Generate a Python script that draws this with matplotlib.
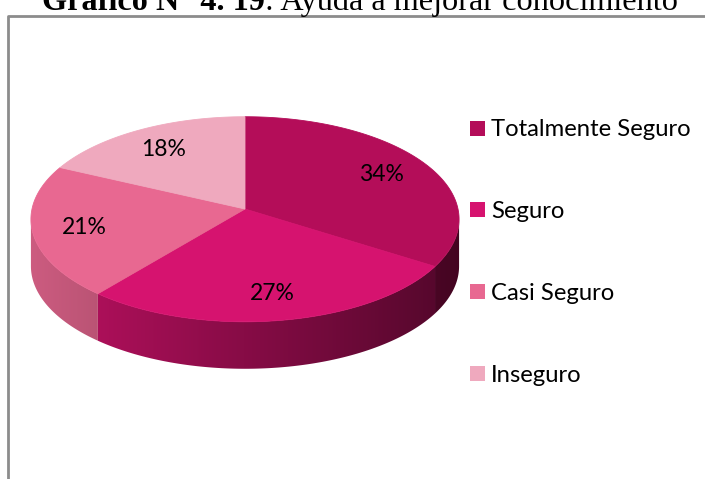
import numpy as np
import matplotlib.pyplot as plt
from matplotlib.patches import Polygon, Rectangle
from matplotlib.colors import to_rgb

# ---------------- data ----------------
categories = ["Totalmente Seguro", "Seguro", "Casi Seguro", "Inseguro"]
values = [34, 27, 21, 18]
pct_labels = ["34%", "27%", "21%", "18%"]
colors = ["#B40D59", "#D6136F", "#E86891", "#EFA9BE"]

title_bold = "Gráfico N° 4. 19"
title_rest = ": Ayuda a mejorar conocimiento"

# ---------------- pie geometry (pixels) ----------------
cx, cy = 245, 209      # vertex of the pie
a, b = 213, 101.5      # half axes of the top ellipse
depth = 47             # thickness of the pie
persp = 0.1            # small perspective, far side looks smaller


def rim(t, r=1.0):
    # t in degrees, clockwise from 12 o'clock
    rad = np.radians(t)
    u, v = r * np.sin(rad), r * np.cos(rad)
    k = 1.0 / (1.0 + persp * v)
    return cx + a * u * k, cy - b * v * k


def shade(x):
    # lighter on the left, dark on the right
    return 0.38 + 0.50 * (1 - (x - (cx - a)) / (2 * a))


fig = plt.figure(figsize=(7.05, 4.79), dpi=100)
ax = fig.add_axes([0, 0, 1, 1])
ax.set_xlim(0, 705)
ax.set_ylim(479, 0)
ax.axis("off")

# chart area border (only left and top visible)
ax.plot([8, 8, 706], [480, 15.5, 15.5], color="#8C8C8C", lw=2)

fracs = np.array(values) / sum(values)
ends = np.cumsum(fracs) * 360
starts = ends - fracs * 360

# visible part of the side (silhouette where cos t = -persp)
t_vis0 = np.degrees(np.arccos(-persp))
t_vis1 = 360 - t_vis0

# ---------------- side of the pie with a horizontal gradient ----------------
xs_img = np.linspace(cx - a - 10, cx + a + 10, 500)
for i in range(len(values)):
    lo, hi = max(starts[i], t_vis0), min(ends[i], t_vis1)
    if hi <= lo:
        continue
    ts = np.linspace(lo, hi, 150)
    top = [rim(t) for t in ts]
    bottom = [(x, y + depth) for x, y in top[::-1]]
    poly = Polygon(top + bottom, closed=True, fc="none", ec="none")
    ax.add_patch(poly)
    base = np.array(to_rgb(colors[i]))
    grad = np.clip(shade(xs_img)[:, None] * base[None, :], 0, 1)[None, :, :]
    im = ax.imshow(grad, extent=(xs_img[0], xs_img[-1], cy + b * 1.2 + depth, cy - b * 1.2),
                   aspect="auto", interpolation="bilinear", zorder=1)
    im.set_clip_path(poly)

# ---------------- top face ----------------
for i in range(len(values)):
    ts = np.linspace(starts[i], ends[i], 120)
    pts = [(cx, cy)] + [rim(t) for t in ts]
    ax.add_patch(Polygon(pts, closed=True, fc=colors[i], ec=colors[i], lw=0.6, zorder=2))

# ---------------- percent labels ----------------
for i in range(len(values)):
    mid = (starts[i] + ends[i]) / 2
    lx, ly = rim(mid, 0.76)
    ax.text(lx, ly + 8.3, pct_labels[i], ha="center", va="baseline",
            fontsize=16.5, family="Lato", color="black", zorder=3)

# ---------------- legend ----------------
leg_y0, leg_dy = 128, 81.7
for i, name in enumerate(categories):
    y = leg_y0 + i * leg_dy
    ax.add_patch(Rectangle((470, y - 7.5), 15, 15, fc=colors[i], ec="none"))
    ax.text(491, y + 8.5, name, ha="left", va="baseline",
            fontsize=17.2, family="Lato", color="black")

# ---------------- title (cut at the top like the reference) ----------------
t1 = ax.text(42, 9.5, title_bold, ha="left", va="baseline", fontsize=23.2,
             family="Liberation Serif", weight="bold")
fig.canvas.draw()
bb = t1.get_window_extent()
x_end = ax.transData.inverted().transform((bb.x1, bb.y0))[0]
ax.text(x_end, 9.5, title_rest, ha="left", va="baseline", fontsize=23.2,
        family="Liberation Serif")

ax.set_xlim(0, 705)
ax.set_ylim(479, 0)
fig.savefig("out.png", dpi=100)
